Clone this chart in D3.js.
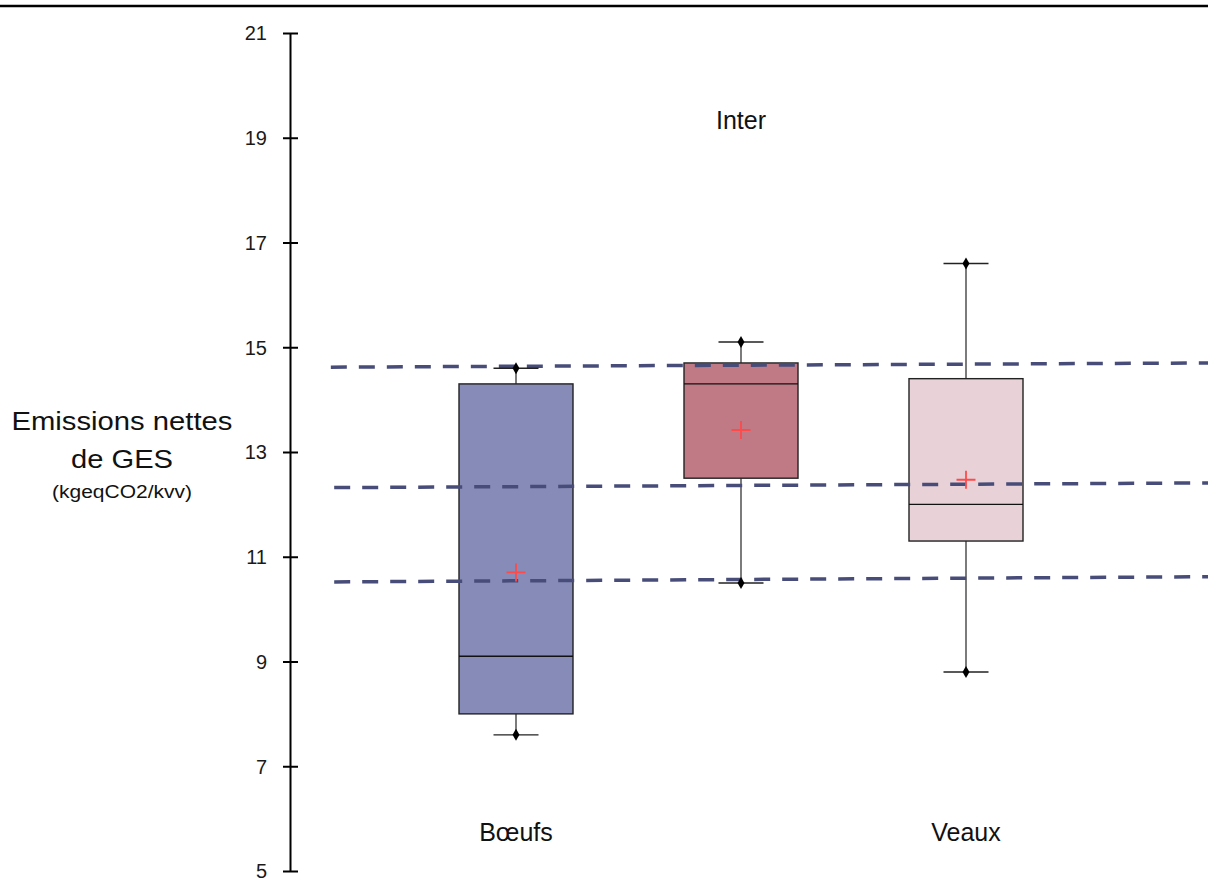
<!DOCTYPE html>
<html>
<head>
<meta charset="utf-8">
<script src="https://cdn.jsdelivr.net/npm/d3@7"></script>
<style>
  html, body { margin: 0; padding: 0; background: #fff; }
  svg { display: block; font-family: "Liberation Sans", Arial, sans-serif; }
</style>
</head>
<body>
<svg id="chart" width="1208" height="892"></svg>
<script>
// ---- data ----
const categories = ["Bœufs", "Inter", "Veaux"];
const whiskerLow  = [7.6, 10.5, 8.8];
const q1          = [8.0, 12.5, 11.3];
const median      = [9.1, 14.3, 12.0];
const q3          = [14.3, 14.7, 14.4];
const whiskerHigh = [14.6, 15.1, 16.6];
const means       = [10.7, 13.42, 12.47];
const boxColors   = ["#878bb8", "#c07a86", "#e8d2d8"];
const yTicks      = [5, 7, 9, 11, 13, 15, 17, 19, 21];
// reference dashed lines: [x start, y start, x end, y end] in data units
const refLineX0 = [0.177, 0.192, 0.192];
const refLineY0 = [14.62, 12.32, 10.52];
const refLineX1 = [4.1, 4.1, 4.1];
const refLineY1 = [14.70, 12.41, 10.62];
const yLabelLines = ["Emissions nettes", "de GES", "(kgeqCO2/kvv)"];

// ---- scales ----
const svg = d3.select("#chart");
const x = d3.scaleLinear().domain([0, 4]).range([291, 1191]);
const y = d3.scaleLinear().domain([5, 21]).range([871, 33]);
const boxW = 114, capW = 45;

// top border
svg.append("line").attr("x1", 0).attr("x2", 1208).attr("y1", 6).attr("y2", 6)
  .attr("stroke", "#000").attr("stroke-width", 2.5);

// y axis
const yAxis = d3.axisLeft(y).tickValues(yTicks).tickSize(0).tickPadding(0).tickFormat(d3.format("d"));
const gy = svg.append("g").attr("transform", "translate(290,0)").call(yAxis);
gy.attr("font-size", 20).attr("font-family", "Liberation Sans, Arial, sans-serif");
gy.select(".domain").attr("stroke", "#000").attr("stroke-width", 2);
gy.selectAll(".tick text").attr("x", -23).attr("dy", "0.34em")
  .attr("font-size", 20).attr("fill", "#1a1a1a");
gy.selectAll(".tick").append("line").attr("x1", -7).attr("x2", 8)
  .attr("stroke", "#000").attr("stroke-width", 2);

const data = categories.map((c, i) => ({
  c, i, pos: i + 1, lo: whiskerLow[i], q1: q1[i], med: median[i], q3: q3[i], hi: whiskerHigh[i], mean: means[i], color: boxColors[i]
}));

const g = svg.append("g");
// whisker stems
g.selectAll(".stemHi").data(data).join("line")
  .attr("x1", d => x(d.pos)).attr("x2", d => x(d.pos))
  .attr("y1", d => y(d.hi)).attr("y2", d => y(d.q3))
  .attr("stroke", "#444").attr("stroke-width", 1.4);
g.selectAll(".stemLo").data(data).join("line")
  .attr("x1", d => x(d.pos)).attr("x2", d => x(d.pos))
  .attr("y1", d => y(d.q1)).attr("y2", d => y(d.lo))
  .attr("stroke", "#444").attr("stroke-width", 1.4);
// boxes
g.selectAll(".box").data(data).join("rect")
  .attr("x", d => x(d.pos) - boxW / 2).attr("width", boxW)
  .attr("y", d => y(d.q3)).attr("height", d => y(d.q1) - y(d.q3))
  .attr("fill", d => d.color).attr("stroke", "#222").attr("stroke-width", 1.4);
// medians
g.selectAll(".med").data(data).join("line")
  .attr("x1", d => x(d.pos) - boxW / 2).attr("x2", d => x(d.pos) + boxW / 2)
  .attr("y1", d => y(d.med)).attr("y2", d => y(d.med))
  .attr("stroke", "#111").attr("stroke-width", 1.4);

// dashed reference lines
const refLines = refLineX0.map((v, i) => [[v, refLineY0[i]], [refLineX1[i], refLineY1[i]]]);
svg.append("g").selectAll("path").data(refLines).join("path")
  .attr("d", d3.line().x(p => x(p[0])).y(p => y(p[1])))
  .attr("fill", "none").attr("stroke", "#474c78").attr("stroke-width", 3.5)
  .attr("stroke-dasharray", "16,12");

const g2 = svg.append("g");
// caps
["lo", "hi"].forEach(k => {
  g2.selectAll(".cap" + k).data(data).join("line")
    .attr("x1", d => x(d.pos) - capW / 2).attr("x2", d => x(d.pos) + capW / 2)
    .attr("y1", d => y(d[k])).attr("y2", d => y(d[k]))
    .attr("stroke", "#222").attr("stroke-width", 1.4);
  g2.selectAll(".dot" + k).data(data).join("path")
    .attr("transform", d => `translate(${x(d.pos)},${y(d[k])})`)
    .attr("d", d3.symbol().type(d3.symbolDiamond).size(42))
    .attr("fill", "#000");
});
// means
g2.selectAll(".mean").data(data).join("path")
  .attr("transform", d => `translate(${x(d.pos)},${y(d.mean)})`)
  .attr("d", "M-9.5,0H9.5M0,-9V9")
  .attr("stroke", "#ff4a4a").attr("stroke-width", 1.8).attr("fill", "none");

// category labels (alternating bottom/top)
svg.append("g").selectAll("text").data(data).join("text")
  .attr("x", d => x(d.pos))
  .attr("y", d => d.i % 2 === 1 ? 129 : 841)
  .attr("text-anchor", "middle").attr("font-size", 25).attr("fill", "#111")
  .text(d => d.c);

// y axis label
const yl = svg.append("g");
const ylBase = [430, 468, 498], ylSize = [26, 26, 18], ylLen = [221, 102, 140];
yLabelLines.forEach((t, i) => {
  yl.append("text").attr("x", 122).attr("y", ylBase[i])
    .attr("text-anchor", "middle").attr("font-size", ylSize[i]).attr("fill", "#111")
    .attr("textLength", ylLen[i]).attr("lengthAdjust", "spacingAndGlyphs")
    .text(t);
});
</script>
</body>
</html>
